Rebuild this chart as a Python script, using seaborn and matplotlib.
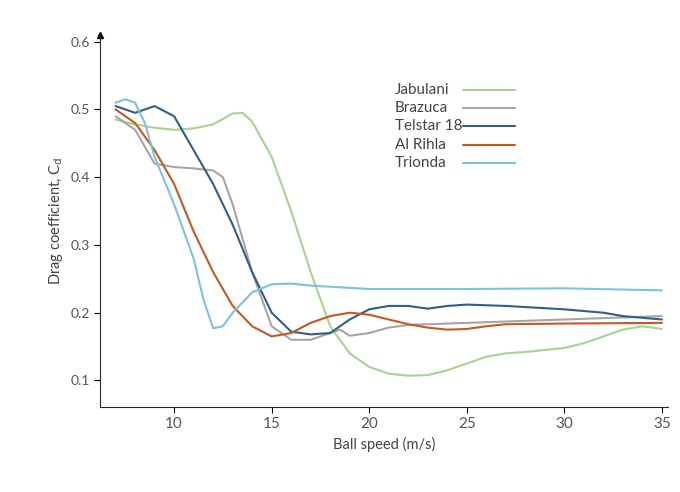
import numpy as np
import pandas as pd
import seaborn as sns
from matplotlib import pyplot as plt

sns.set_style("ticks")
plt.rcParams['font.family'] = ['Lato', 'DejaVu Sans']

jab_x = [7, 8, 9, 10, 11, 12, 12.5, 13, 13.5, 14, 15, 16, 17, 18, 19, 20, 21, 22, 23, 24, 25, 26, 27, 28, 29, 30, 31, 32, 33, 34, 35]
jab_y = [0.485, 0.478, 0.473, 0.470, 0.472, 0.478, 0.486, 0.494, 0.495, 0.482, 0.43, 0.35, 0.26, 0.18, 0.14, 0.12, 0.11, 0.107, 0.108, 0.115, 0.125, 0.135, 0.14, 0.142, 0.145, 0.148, 0.155, 0.165, 0.175, 0.18, 0.176]
bra_x = [7, 8, 9, 10, 11, 12, 12.5, 13, 14, 15, 16, 17, 18, 18.5, 19, 20, 21, 22, 25, 30, 35]
bra_y = [0.49, 0.47, 0.42, 0.415, 0.413, 0.41, 0.40, 0.36, 0.26, 0.18, 0.16, 0.16, 0.17, 0.175, 0.166, 0.17, 0.178, 0.182, 0.185, 0.19, 0.195]
tel_x = [7, 8, 9, 10, 11, 12, 13, 14, 15, 16, 17, 18, 19, 20, 21, 22, 23, 24, 25, 27, 30, 32, 33, 35]
tel_y = [0.505, 0.495, 0.505, 0.49, 0.44, 0.39, 0.33, 0.26, 0.20, 0.172, 0.168, 0.17, 0.19, 0.205, 0.21, 0.21, 0.206, 0.21, 0.212, 0.21, 0.205, 0.20, 0.195, 0.19]
ali_x = [7, 8, 9, 10, 11, 12, 13, 14, 15, 16, 17, 18, 19, 20, 21, 22, 23, 24, 25, 26, 27, 30, 35]
ali_y = [0.50, 0.48, 0.44, 0.39, 0.32, 0.26, 0.21, 0.18, 0.165, 0.17, 0.185, 0.195, 0.20, 0.197, 0.19, 0.183, 0.178, 0.175, 0.176, 0.18, 0.183, 0.184, 0.185]
tri_x = [7, 7.5, 8, 8.5, 9, 10, 11, 11.5, 12, 12.5, 13, 14, 15, 16, 17, 20, 25, 30, 35]
tri_y = [0.51, 0.515, 0.51, 0.48, 0.43, 0.36, 0.28, 0.22, 0.177, 0.18, 0.20, 0.23, 0.242, 0.243, 0.24, 0.235, 0.235, 0.236, 0.233]

balls = ['Jabulani', 'Brazuca', 'Telstar 18', 'Al Rihla', 'Trionda']
colors = ['#a9d38e', '#a6a6a6', '#2f5f8a', '#c8581e', '#7cc3dd']
series = [(jab_x, jab_y), (bra_x, bra_y), (tel_x, tel_y), (ali_x, ali_y), (tri_x, tri_y)]

df = pd.concat([pd.DataFrame({'speed': x, 'cd': y, 'ball': b}) for b, (x, y) in zip(balls, series)])

fig = plt.figure(figsize=(6.8, 4.92), dpi=100)
ax = fig.add_axes([0.147, 0.173, 0.835, 0.756])
sns.lineplot(data=df, x='speed', y='cd', hue='ball', hue_order=balls,
             palette=colors, linewidth=1.5, ax=ax, legend=False)
ax.set_xlim(6.2, 35.3)
ax.set_ylim(0.061, 0.61)
ax.set_xticks([10, 15, 20, 25, 30, 35])
ax.set_yticks([0.1, 0.2, 0.3, 0.4, 0.5, 0.6])
ax.set_yticklabels(['0.1', '0.2', '0.3', '0.4', '0.5', '0.6'])
ax.tick_params(axis='x', labelsize=11)
ax.tick_params(colors='#555555', length=4, color='black')
sns.despine(ax=ax)
ax.plot(0, 1, '^k', markersize=4, transform=ax.transAxes, clip_on=False)
ax.set_xlabel('Ball speed (m/s)', color='#444444', fontsize=10.5)
ax.set_ylabel('Drag coefficient, C$_\\mathrm{d}$', color='#444444', fontsize=10.5)

# legend: labels left-aligned, line sample to the right
for i, (b, c) in enumerate(zip(balls, colors)):
    yy = 0.852 - i * 0.049
    ax.text(0.519, yy, b, transform=ax.transAxes, fontsize=11, color='#444444', va='center')
    ax.plot([0.639, 0.731], [yy, yy], color=c, lw=1.5, transform=ax.transAxes)

fig.savefig('out.png', dpi=100, facecolor='white')
